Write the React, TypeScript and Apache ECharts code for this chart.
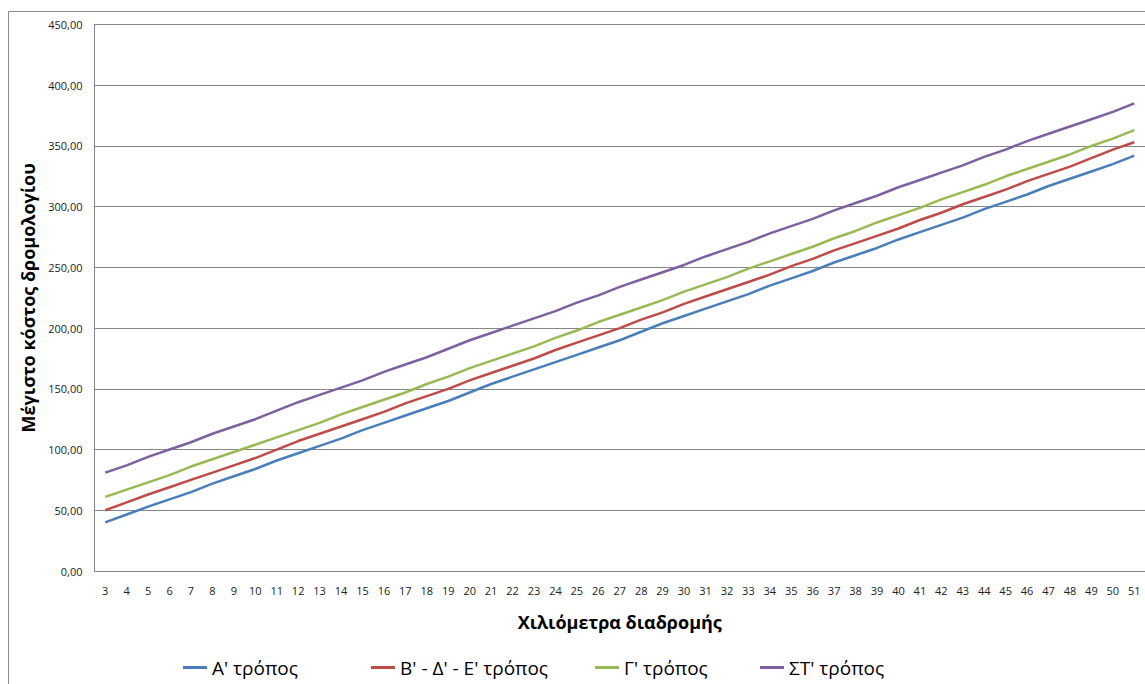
import React, { useEffect, useRef } from "react";
import * as echarts from "echarts";

// Route length in km
const km: string[] = [
  "3", "4", "5", "6", "7", "8", "9", "10", "11", "12", "13", "14", "15", "16", "17", "18", "19",
  "20", "21", "22", "23", "24", "25", "26", "27", "28", "29", "30", "31", "32", "33", "34", "35",
  "36", "37", "38", "39", "40", "41", "42", "43", "44", "45", "46", "47", "48", "49", "50", "51",
];

// Maximum route cost per fare mode
const modeA: number[] = [
  40, 46.5, 53, 59, 65, 72, 78, 84, 91, 97, 103, 109, 116, 122, 128, 134, 140,
  147, 154, 160, 166, 172, 178, 184, 190, 197, 204, 210, 216, 222, 228, 235, 241,
  247, 254, 260, 266, 273, 279, 285, 291, 298, 304, 310, 317, 323, 329, 335, 342,
];
const modeBDE: number[] = [
  50, 56.5, 63, 69, 75, 81, 87, 93, 100, 107, 113, 119, 125, 131, 138, 144, 150,
  157, 163, 169, 175, 182, 188, 194, 200, 207, 213, 220, 226, 232, 238, 244, 251,
  257, 264, 270, 276, 282, 289, 295, 302, 308, 314, 321, 327, 333, 340, 347, 353,
];
const modeG: number[] = [
  61, 67, 73, 79, 86, 92, 98, 104, 110, 116, 122, 129, 135, 141, 147, 154, 160,
  167, 173, 179, 185, 192, 198, 205, 211, 217, 223, 230, 236, 242, 249, 255, 261,
  267, 274, 280, 287, 293, 299, 306, 312, 318, 325, 331, 337, 343, 350, 356, 363,
];
const modeST: number[] = [
  81, 87, 94, 100, 106, 113, 119, 125, 132, 139, 145, 151, 157, 164, 170, 176, 183,
  190, 196, 202, 208, 214, 221, 227, 234, 240, 246, 252, 259, 265, 271, 278, 284,
  290, 297, 303, 309, 316, 322, 328, 334, 341, 347, 354, 360, 366, 372, 378, 385,
];

const seriesNames: string[] = ["Α' τρόπος", "Β' - Δ' - Ε' τρόπος", "Γ' τρόπος", "ΣΤ' τρόπος"];
const seriesColors: string[] = ["#4A7EBB", "#BE4B48", "#98B954", "#7D60A0"];
const seriesData: number[][] = [modeA, modeBDE, modeG, modeST];
const legendLeft: number[] = [183, 371, 595, 760];

const FONT = "Open Sans";

export default function App() {
  const ref = useRef<HTMLDivElement>(null);

  useEffect(() => {
    if (!ref.current) return;
    const chart = echarts.init(ref.current, undefined, { renderer: "svg" });
    chart.setOption({
      animation: false,
      backgroundColor: "#ffffff",
      graphic: [
        {
          type: "rect",
          shape: { x: 8.5, y: 11.5, width: 1200, height: 720 },
          style: { fill: "none", stroke: "#8c8c8c", lineWidth: 1 },
          silent: true,
        },
      ],
      grid: { left: 94.5, top: 24.5, right: -2.75, bottom: 113, containLabel: false },
      legend: seriesNames.map((n, i) => ({
        data: [n],
        left: legendLeft[i],
        top: 658,
        icon: "rect",
        itemWidth: 24,
        itemHeight: 3,
        itemGap: 0,
        textStyle: { fontFamily: FONT, fontSize: 19, color: "#000" },
        padding: 0,
      })),
      xAxis: {
        type: "category",
        data: km,
        boundaryGap: true,
        name: "Χιλιόμετρα διαδρομής",
        nameLocation: "middle",
        nameGap: 42,
        nameTextStyle: { fontFamily: FONT, fontSize: 18, fontWeight: "bold", color: "#000" },
        axisLine: { lineStyle: { color: "#868686", width: 1 } },
        axisTick: { show: false },
        axisLabel: { fontFamily: FONT, fontSize: 11, color: "#222", margin: 14, interval: 0 },
      },
      yAxis: {
        type: "value",
        min: 0,
        max: 450,
        interval: 50,
        name: "Μέγιστο κόστος δρομολογίου",
        nameLocation: "middle",
        nameGap: 58,
        nameTextStyle: { fontFamily: FONT, fontSize: 18, fontWeight: "bold", color: "#000" },
        axisLine: { show: true, lineStyle: { color: "#868686", width: 1 } },
        axisTick: { show: false },
        splitLine: { lineStyle: { color: "#868686", width: 1 } },
        axisLabel: {
          fontFamily: FONT,
          fontSize: 11,
          color: "#222",
          margin: 12,
          formatter: (v: number) => v.toFixed(2).replace(".", ","),
        },
      },
      series: seriesNames.map((n, i) => ({
        name: n,
        type: "line",
        data: seriesData[i],
        symbol: "none",
        smooth: false,
        lineStyle: { color: seriesColors[i], width: 2.5 },
        itemStyle: { color: seriesColors[i] },
      })),
    });
    return () => chart.dispose();
  }, []);

  return (
    <div
      ref={ref}
      style={{ position: "absolute", left: 0, top: 0, width: 1145, height: 684 }}
    />
  );
}
